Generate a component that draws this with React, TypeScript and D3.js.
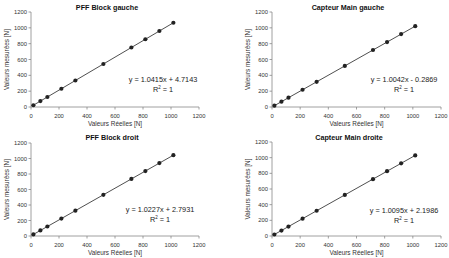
import React from "react";
import * as d3 from "d3";

const xReal = [17, 67, 117, 217, 317, 517, 717, 817, 917, 1017];
const yPffGauche = [22.4, 74.5, 126.6, 230.7, 334.9, 543.2, 751.5, 855.6, 959.8, 1063.9];
const yMainGauche = [16.8, 67.0, 117.2, 217.6, 318.0, 518.9, 719.7, 820.1, 920.6, 1021.0];
const yPffDroit = [20.2, 71.3, 122.4, 224.7, 327.0, 531.5, 736.1, 838.3, 940.6, 1042.9];
const yMainDroite = [19.4, 69.8, 120.3, 221.3, 322.2, 524.1, 726.0, 827.0, 927.9, 1028.9];
const ticks = [0, 200, 400, 600, 800, 1000, 1200];

const titles = ["PFF Block gauche", "Capteur Main gauche", "PFF Block droit", "Capteur Main droite"];
const equations = ["y = 1.0415x + 4.7143", "y = 1.0042x - 0.2869", "y = 1.0227x + 2.7931", "y = 1.0095x + 2.1986"];
const slopes = [1.0415, 1.0042, 1.0227, 1.0095];
const intercepts = [4.7143, -0.2869, 2.7931, 2.1986];
const series = [yPffGauche, yMainGauche, yPffDroit, yMainDroite];

const layouts = [
  { x0: 31, x1: 199, y0: 107, y1: 12, titleX: 107, titleY: 10, eqX: 163, eqY: 82 },
  { x0: 272, x1: 441, y0: 107, y1: 12, titleX: 348, titleY: 10, eqX: 404, eqY: 82 },
  { x0: 31, x1: 199, y0: 236, y1: 143, titleX: 112, titleY: 140, eqX: 160, eqY: 212 },
  { x0: 272, x1: 441, y0: 236, y1: 142, titleX: 349, titleY: 140, eqX: 404, eqY: 213 },
];

const font = "'Liberation Sans', Arial, sans-serif";
const axisColor = "#888";

function Panel({ i }: { i: number }) {
  const L = layouts[i];
  const x = d3.scaleLinear().domain([0, 1200]).range([L.x0, L.x1]);
  const y = d3.scaleLinear().domain([0, 1200]).range([L.y0, L.y1]);
  const ys = series[i];
  const xmin = d3.min(xReal)!;
  const xmax = d3.max(xReal)!;
  const line = d3.line<number>().x((d) => x(d)).y((d) => y(slopes[i] * d + intercepts[i]));
  return (
    <g>
      <text x={L.titleX} y={L.titleY} textAnchor="middle" fontSize={7.2} fontWeight="bold" fill="#111" fontFamily={font}>
        {titles[i]}
      </text>
      <line x1={L.x0} x2={L.x0} y1={L.y1} y2={L.y0} stroke={axisColor} strokeWidth={0.8} />
      <line x1={L.x0} x2={L.x1} y1={L.y0} y2={L.y0} stroke={axisColor} strokeWidth={0.8} />
      {ticks.map((t) => (
        <g key={"y" + t}>
          <line x1={L.x0 - 2.5} x2={L.x0} y1={y(t)} y2={y(t)} stroke={axisColor} strokeWidth={0.8} />
          <text x={L.x0 - 4} y={y(t) + 2} textAnchor="end" fontSize={5.8} fill="#333" fontFamily={font}>
            {t}
          </text>
        </g>
      ))}
      {ticks.map((t) => (
        <g key={"x" + t}>
          <line x1={x(t)} x2={x(t)} y1={L.y0} y2={L.y0 + 2.5} stroke={axisColor} strokeWidth={0.8} />
          <text x={x(t)} y={L.y0 + 10.5} textAnchor="middle" fontSize={5.8} fill="#333" fontFamily={font}>
            {t}
          </text>
        </g>
      ))}
      <text x={(L.x0 + L.x1) / 2} y={L.y0 + 18.5} textAnchor="middle" fontSize={6.4} fill="#333" fontFamily={font}>
        Valeurs Réelles [N]
      </text>
      <text
        transform={`translate(${L.x0 - 22},${(L.y0 + L.y1) / 2}) rotate(-90)`}
        textAnchor="middle"
        fontSize={6.4}
        fill="#333"
        fontFamily={font}
      >
        Valeurs mesurées [N]
      </text>
      <path d={line([xmin, xmax]) || ""} stroke="#222" strokeWidth={0.8} fill="none" />
      {xReal.map((v, k) => (
        <circle key={k} cx={x(v)} cy={y(ys[k])} r={2.1} fill="#222" />
      ))}
      <text x={L.eqX} y={L.eqY} textAnchor="middle" fontSize={7.3} fill="#222" fontFamily={font}>
        {equations[i]}
      </text>
      <text x={L.eqX} y={L.eqY + 9.5} textAnchor="middle" fontSize={7.3} fill="#222" fontFamily={font}>
        R
        <tspan dy={-3} fontSize={4.5}>2</tspan>
        <tspan dy={3}> = 1</tspan>
      </text>
    </g>
  );
}

export default function App() {
  return (
    <svg width={449} height={258} style={{ position: "absolute", left: 0, top: 0, background: "#fff" }}>
      <rect width={449} height={258} fill="#fff" />
      {[0, 1, 2, 3].map((i) => (
        <Panel key={i} i={i} />
      ))}
    </svg>
  );
}
